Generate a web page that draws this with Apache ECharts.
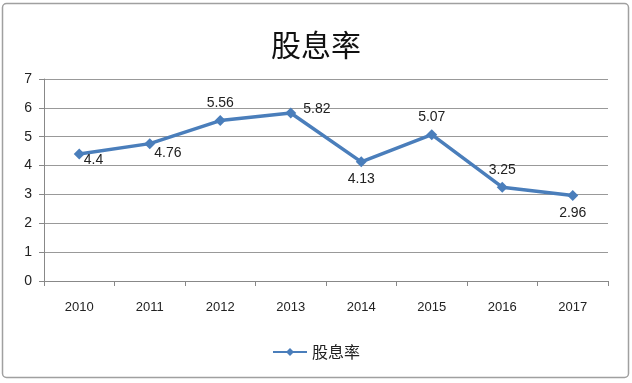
<!DOCTYPE html>
<html><head><meta charset="utf-8">
<script src="https://cdn.jsdelivr.net/npm/echarts@6/dist/echarts.min.js"></script>
<style>html,body{margin:0;padding:0;background:#fff}#c{width:632px;height:383px}</style>
</head><body><div id="c"></div>
<script>
const categories = ['2010','2011','2012','2013','2014','2015','2016','2017'];
const values = [4.4, 4.76, 5.56, 5.82, 4.13, 5.07, 3.25, 2.96];
const labelPos = ['right','right','top','right','bottom','top','top','bottom'];
const labelOffsets = [[-6,6],[-6,10],[0,0],[2,-4],[0,0],[0,0],[0,0],[0,0]];
const seriesName = '股息率';

const chart = echarts.init(document.getElementById('c'));
chart.setOption({
  animation: false,
  graphic: [{type:'rect', shape:{x:2.5,y:3.5,width:626,height:374,r:4}, style:{fill:'none', stroke:'#a0a0a0', lineWidth:1.5}}],
  title: {text: seriesName, left:'center', top:25, textStyle:{fontFamily:'Noto Sans CJK SC', fontSize:30, fontWeight:'normal', color:'#111'}},
  grid: {left:44, right:24, top:79, bottom:102},
  legend: {bottom:18, left:'center', itemWidth:34, itemHeight:10, itemGap:10, textStyle:{fontFamily:'Noto Sans CJK SC', fontSize:16, color:'#222'}, data:[seriesName]},
  xAxis: {type:'category', data:categories, boundaryGap:true,
    axisLine:{lineStyle:{color:'#888', width:1}},
    axisTick:{show:true, length:5, lineStyle:{color:'#888'}},
    axisLabel:{margin:20, fontFamily:'Liberation Sans', fontSize:13, color:'#222'}},
  yAxis: {type:'value', min:0, max:7, interval:1,
    axisLine:{show:true, lineStyle:{color:'#888'}},
    axisTick:{show:true, length:5, lineStyle:{color:'#888'}},
    splitLine:{lineStyle:{color:'#999', width:1}},
    axisLabel:{margin:12, fontFamily:'Liberation Sans', fontSize:14, color:'#222'}},
  series: [{
    name: seriesName, type:'line',
    data: values.map((v,i)=>({value:v, label:{position:labelPos[i], offset:labelOffsets[i]}})),
    symbol:'diamond', symbolSize:11,
    lineStyle:{color:'#4a7ebb', width:3.5},
    itemStyle:{color:'#4a7ebb'},
    label:{show:true, fontFamily:'Liberation Sans', fontSize:14, color:'#222', distance:5}
  }]
});
</script></body></html>
